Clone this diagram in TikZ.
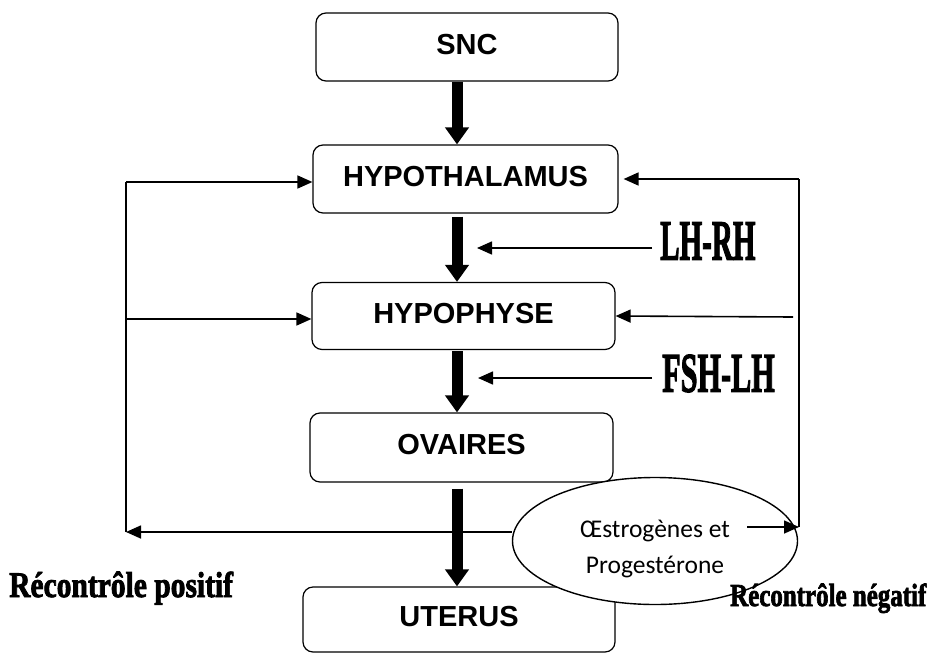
\documentclass[tikz,border=0pt]{standalone}
\usepackage{fontspec}
\setmainfont{Liberation Sans}
\newfontfamily\calib{Carlito}
\newfontfamily\heavy[FakeBold=2.5]{Liberation Serif Bold}
\usetikzlibrary{arrows.meta,shapes.geometric}
\tikzset{
  box/.style={draw, line width=1.2pt, rounded corners=10pt, inner sep=0pt,
    text depth=6pt, font=\fontsize{29}{29}\selectfont\bfseries},
  big/.style={line width=11pt, -{Triangle[width=23pt,length=17pt]}},
  tarrow/.style={line width=1.6pt, -{Triangle[width=13pt,length=15pt]}},
  tline/.style={line width=1.6pt},
  hlabel/.style={inner sep=0pt, font=\heavy}
}
\begin{document}
\begin{tikzpicture}[x=1pt,y=-1pt]
\useasboundingbox (0,0) rectangle (928,653);
% boxes
\node[box, minimum width=302pt, minimum height=68pt] (snc) at (467,47) {SNC};
\node[box, minimum width=305pt, minimum height=68pt] (hypo) at (465.5,179) {HYPOTHALAMUS};
\node[box, minimum width=303pt, minimum height=67pt] (hyph) at (463.5,316) {HYPOPHYSE};
\node[box, minimum width=303pt, minimum height=69pt] (ova) at (461.5,447.5) {OVAIRES};
\node[box, minimum width=312pt, minimum height=65pt] (ut) at (459,619.5) {UTERUS};
% ellipse
\node[ellipse, draw, fill=white, line width=1.4pt, inner sep=0pt,
  minimum width=285pt, minimum height=127pt,
  font=\calib\fontsize{25.5}{36}\selectfont] (ell) at (655,541)
  {\raisebox{-14pt}[0pt][0pt]{\begin{tabular}{@{}c@{}}Œstrogènes et\\Progestérone\end{tabular}}};
% thick arrows
\coordinate (ax) at (457,0);
\draw[big] (ax |- snc.south) -- (ax |- hypo.north);
\draw[big, shorten <=3pt] (ax |- hypo.south) -- (ax |- hyph.north);
\draw[big, shorten <=1pt] (ax |- hyph.south) -- (ax |- ova.north);
\draw[big, shorten <=6pt] (ax |- ova.south) -- (ax |- ut.north);
% hormone arrows
\coordinate (l1s) at (652,248);
\coordinate (l1e) at (477,248);
\draw[tarrow] (l1s) -- (l1e);
\coordinate (l2s) at (652,378);
\coordinate (l2e) at (478,378);
\draw[tarrow] (l2s) -- (l2e);
% left feedback
\coordinate (lb) at (126,532);
\coordinate (lt) at (126,182);
\coordinate (lm) at (126,319);
\draw[tarrow] (ell.west |- lb) -- (lb);
\draw[tline] (lb) -- (lt);
\draw[tarrow] (lt) -- (lt -| hypo.west);
\draw[tarrow] (lm) -- (lm -| hyph.west);
% right feedback
\coordinate (e1) at (747,527);
\coordinate (rb) at (799,527);
\coordinate (rt) at (799,179);
\coordinate (rm) at (793,317);
\draw[tarrow] (e1) -- (rb);
\draw[tline] (rb) -- (rt);
\draw[tarrow] (rt) -- ([xshift=5pt]hypo.east);
\draw[tarrow] (rm) -- (hyph.east);
% labels
\node[hlabel, anchor=west] (lhrh) at (660,241) {\scalebox{0.51}[1]{\fontsize{57}{57}\selectfont LH-RH}};
\node[hlabel, anchor=west] (fshlh) at (662,373.5) {\scalebox{0.54}[1]{\fontsize{56}{56}\selectfont FSH-LH}};
\node[hlabel, anchor=base west] (pos) at (9,597) {\scalebox{0.82}[1]{\fontsize{36}{36}\selectfont Récontrôle positif}};
\node[hlabel, anchor=base west] (neg) at (730,606) {\scalebox{0.78}[1]{\fontsize{32}{32}\selectfont Récontrôle négatif}};
\end{tikzpicture}
\end{document}
